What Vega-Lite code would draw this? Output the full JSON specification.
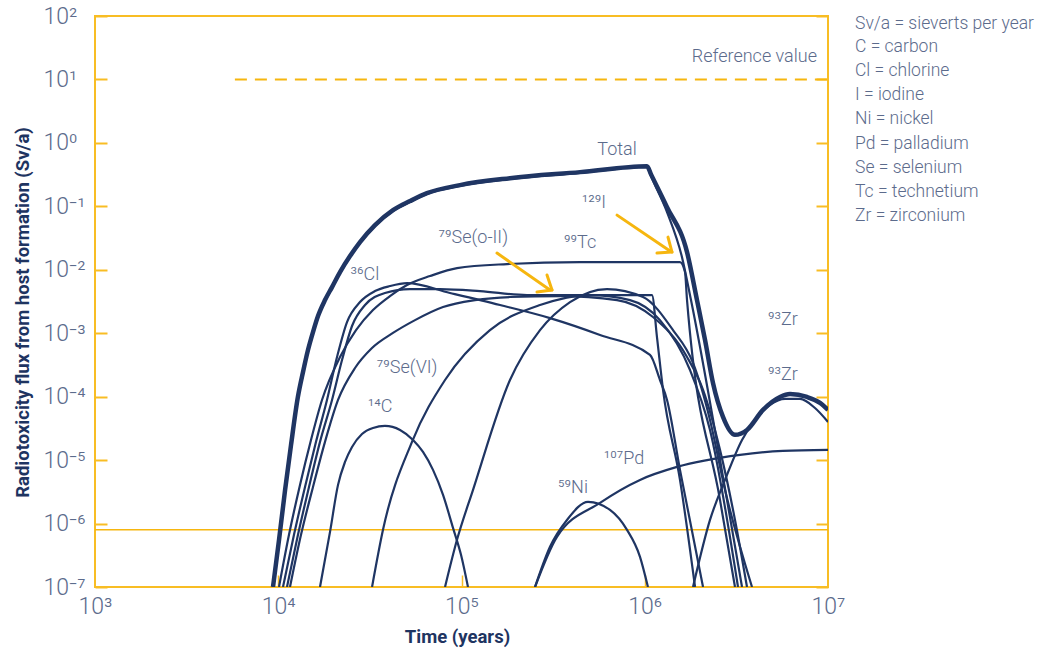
{
"$schema":"https://vega.github.io/schema/vega-lite/v6.json",
"width":733,"height":571,
"autosize":{"type":"none"},
"padding":{"left":95,"top":16,"right":215,"bottom":61},
"background":"#ffffff",
"config":{"view":{"stroke":"#f8bd24","strokeWidth":2},"font":"Roboto","axis":{"grid":false,"domain":false}},
"datasets":{
"refs":[{"k":"solid","t":1000,"t2":10000000,"v":8e-7},{"k":"dash","t":5800,"t2":10000000,"v":10}],
"arrows":[
{"t":156200,"v":0.01832,"t2":304100,"v2":0.00479},
{"t":311800,"v":0.00479,"t2":258200,"v2":0.00446},
{"t":311800,"v":0.00479,"t2":292800,"v2":0.00826},
{"t":706000,"v":0.0727,"t2":1373000,"v2":0.0197},
{"t":1408000,"v":0.0190,"t2":1166000,"v2":0.01832},
{"t":1408000,"v":0.0190,"t2":1339000,"v2":0.0327}],
"labels":[
{"label":"Total","t":706000,"v":0.767},
{"label":"¹²⁹I","t":528000,"v":0.112},
{"label":"⁷⁹Se(o-II)","t":116000,"v":0.0316},
{"label":"⁹⁹Tc","t":444000,"v":0.0261},
{"label":"³⁶Cl","t":29700,"v":0.00826},
{"label":"⁷⁹Se(VI)","t":50500,"v":0.000283},
{"label":"¹⁴C","t":35900,"v":0.0000684},
{"label":"¹⁰⁷Pd","t":770000,"v":0.0000104},
{"label":"⁵⁹Ni","t":406000,"v":0.00000363},
{"label":"⁹³Zr","t":5670000,"v":0.00162},
{"label":"⁹³Zr","t":5670000,"v":0.00022}],
"reflabel":[{"label":"Reference value","t":8710000,"v":22.4}],
"notes":[
{"label":"Sv/a = sieverts per year","t":14040000,"v":74.0},
{"label":"C = carbon","t":14040000,"v":32.1},
{"label":"Cl = chlorine","t":14040000,"v":13.46},
{"label":"I = iodine","t":14040000,"v":5.64},
{"label":"Ni = nickel","t":14040000,"v":2.361},
{"label":"Pd = palladium","t":14040000,"v":0.954},
{"label":"Se = selenium","t":14040000,"v":0.400},
{"label":"Tc = technetium","t":14040000,"v":0.1674},
{"label":"Zr = zirconium","t":14040000,"v":0.0701}],
"curves":[
{"s":"Total","t":9360,"v":1e-7},{"s":"Total","t":10100,"v":5.54e-7},{"s":"Total","t":10900,"v":3.4e-6},{"s":"Total","t":11740,"v":1.73e-5},{"s":"Total","t":12800,"v":9.89e-5},{"s":"Total","t":13650,"v":2.449e-4},{"s":"Total","t":14530,"v":5.437e-4},{"s":"Total","t":15474,"v":1.044e-3},{"s":"Total","t":16480,"v":1.866e-3},{"s":"Total","t":17992,"v":3.333e-3},{"s":"Total","t":19654,"v":5.34e-3},{"s":"Total","t":21731,"v":9.2e-3},{"s":"Total","t":24640,"v":0.01643},{"s":"Total","t":27935,"v":0.02731},{"s":"Total","t":33725,"v":0.05057},{"s":"Total","t":42272,"v":0.0871},{"s":"Total","t":52400,"v":0.121},{"s":"Total","t":64800,"v":0.161},{"s":"Total","t":98100,"v":0.216},{"s":"Total","t":183900,"v":0.278},{"s":"Total","t":443500,"v":0.346},{"s":"Total","t":1029000,"v":0.43},{"s":"Total","t":1082000,"v":0.3191},{"s":"Total","t":1323000,"v":0.0971},{"s":"Total","t":1701000,"v":0.019},{"s":"Total","t":1928000,"v":0.00333},{"s":"Total","t":2133000,"v":7.81e-4},{"s":"Total","t":2357000,"v":1.64e-4},{"s":"Total","t":2673000,"v":4.79e-5},{"s":"Total","t":3108000,"v":2.5e-5},{"s":"Total","t":3614000,"v":2.99e-5},{"s":"Total","t":4418000,"v":6.18e-5},{"s":"Total","t":5472000,"v":9.89e-5},{"s":"Total","t":6205000,"v":1.1e-4},{"s":"Total","t":7681000,"v":9.89e-5},{"s":"Total","t":9045000,"v":7.96e-5},{"s":"Total","t":10000000,"v":6.18e-5},
{"s":"I129","t":9360,"v":9.7e-8},{"s":"I129","t":10100,"v":5.37e-7},{"s":"I129","t":10900,"v":3.3e-6},{"s":"I129","t":11740,"v":1.68e-5},{"s":"I129","t":12800,"v":9.59e-5},{"s":"I129","t":13650,"v":2.376e-4},{"s":"I129","t":14530,"v":5.274e-4},{"s":"I129","t":15474,"v":1.013e-3},{"s":"I129","t":16480,"v":1.81e-3},{"s":"I129","t":17992,"v":3.233e-3},{"s":"I129","t":19654,"v":5.18e-3},{"s":"I129","t":21731,"v":8.92e-3},{"s":"I129","t":24640,"v":0.01594},{"s":"I129","t":27935,"v":0.02649},{"s":"I129","t":33725,"v":0.04905},{"s":"I129","t":42272,"v":0.0845},{"s":"I129","t":52400,"v":0.1174},{"s":"I129","t":64800,"v":0.1562},{"s":"I129","t":98100,"v":0.2095},{"s":"I129","t":183900,"v":0.2697},{"s":"I129","t":443500,"v":0.3356},{"s":"I129","t":1029000,"v":0.417},{"s":"I129","t":1082000,"v":0.2989},{"s":"I129","t":1323000,"v":0.0811},{"s":"I129","t":1597000,"v":0.0158},{"s":"I129","t":1788000,"v":0.00333},{"s":"I129","t":2811000,"v":2.36e-6},{"s":"I129","t":3395000,"v":1e-7},
{"s":"Tc99","t":10094,"v":1e-7},{"s":"Tc99","t":11444,"v":6.64e-7},{"s":"Tc99","t":13143,"v":4.07e-6},{"s":"Tc99","t":15090,"v":2.08e-5},{"s":"Tc99","t":17327,"v":8.87e-5},{"s":"Tc99","t":21731,"v":4.22e-4},{"s":"Tc99","t":26567,"v":1.12e-3},{"s":"Tc99","t":32887,"v":2.32e-3},{"s":"Tc99","t":40710,"v":3.85e-3},{"s":"Tc99","t":50423,"v":5.74e-3},{"s":"Tc99","t":67307,"v":7.96e-3},{"s":"Tc99","t":94515,"v":0.01064},{"s":"Tc99","t":177140,"v":0.0123},{"s":"Tc99","t":443500,"v":0.0132},{"s":"Tc99","t":1557000,"v":0.0132},{"s":"Tc99","t":1658000,"v":0.0092},{"s":"Tc99","t":1701000,"v":0.00333},{"s":"Tc99","t":2574000,"v":2.36e-6},{"s":"Tc99","t":3108000,"v":1e-7},
{"s":"Cl36","t":10615,"v":1e-7},{"s":"Cl36","t":12185,"v":6.64e-7},{"s":"Cl36","t":13995,"v":3.78e-6},{"s":"Cl36","t":16070,"v":1.94e-5},{"s":"Cl36","t":18449,"v":8.87e-5},{"s":"Cl36","t":20929,"v":4.22e-4},{"s":"Cl36","t":23728,"v":1.5e-3},{"s":"Cl36","t":27935,"v":3.1e-3},{"s":"Cl36","t":33725,"v":4.62e-3},{"s":"Cl36","t":40710,"v":5.54e-3},{"s":"Cl36","t":50423,"v":6.17e-3},{"s":"Cl36","t":86500,"v":4.3e-3},{"s":"Cl36","t":162300,"v":2.78e-3},{"s":"Cl36","t":304100,"v":1.73e-3},{"s":"Cl36","t":570000,"v":9.38e-4},{"s":"Cl36","t":1068000,"v":4.54e-4},{"s":"Cl36","t":1211000,"v":1.83e-4},{"s":"Cl36","t":1323000,"v":8.88e-5},{"s":"Cl36","t":1557000,"v":7.01e-6},{"s":"Cl36","t":2080000,"v":1e-7},
{"s":"SeOII","t":11160,"v":1e-7},{"s":"SeOII","t":12812,"v":6.64e-7},{"s":"SeOII","t":14716,"v":3.78e-6},{"s":"SeOII","t":16898,"v":1.94e-5},{"s":"SeOII","t":19654,"v":8.87e-5},{"s":"SeOII","t":22285,"v":3.78e-4},{"s":"SeOII","t":25266,"v":1.3e-3},{"s":"SeOII","t":29756,"v":2.78e-3},{"s":"SeOII","t":38236,"v":4.3e-3},{"s":"SeOII","t":52356,"v":4.97e-3},{"s":"SeOII","t":76300,"v":4.97e-3},{"s":"SeOII","t":126200,"v":4.62e-3},{"s":"SeOII","t":227770,"v":4.0e-3},{"s":"SeOII","t":1095000,"v":4.0e-3},{"s":"SeOII","t":1166000,"v":8.71e-4},{"s":"SeOII","t":1258000,"v":1.28e-4},{"s":"SeOII","t":1557000,"v":4.88e-6},{"s":"SeOII","t":1881000,"v":1e-7},
{"s":"SeVI","t":11589,"v":1e-7},{"s":"SeVI","t":13309,"v":6.64e-7},{"s":"SeVI","t":15474,"v":3.78e-6},{"s":"SeVI","t":17992,"v":1.94e-5},{"s":"SeVI","t":21193,"v":8.87e-5},{"s":"SeVI","t":26235,"v":2.83e-4},{"s":"SeVI","t":32477,"v":5.85e-4},{"s":"SeVI","t":42272,"v":1.01e-3},{"s":"SeVI","t":55776,"v":1.61e-3},{"s":"SeVI","t":79296,"v":2.59e-3},{"s":"SeVI","t":118480,"v":3.33e-3},{"s":"SeVI","t":183950,"v":3.72e-3},{"s":"SeVI","t":344800,"v":3.85e-3},{"s":"SeVI","t":706000,"v":3.33e-3},{"s":"SeVI","t":1109000,"v":1.8e-3},{"s":"SeVI","t":1701000,"v":4.22e-4},{"s":"SeVI","t":2080000,"v":1.28e-4},{"s":"SeVI","t":2574000,"v":1.45e-5},{"s":"SeVI","t":3108000,"v":1.14e-6},{"s":"SeVI","t":3614000,"v":1e-7},
{"s":"C14","t":16898,"v":1e-7},{"s":"C14","t":19165,"v":7.4e-7},{"s":"C14","t":21193,"v":4.07e-6},{"s":"C14","t":23139,"v":9.37e-6},{"s":"C14","t":25266,"v":1.614e-5},{"s":"C14","t":28640,"v":2.586e-5},{"s":"C14","t":32887,"v":3.215e-5},{"s":"C14","t":38236,"v":3.46e-5},{"s":"C14","t":46200,"v":2.99e-5},{"s":"C14","t":54400,"v":2.08e-5},{"s":"C14","t":61650,"v":1.346e-5},{"s":"C14","t":69900,"v":7.01e-6},{"s":"C14","t":79296,"v":2.83e-6},{"s":"C14","t":89880,"v":8.55e-7},{"s":"C14","t":99380,"v":3.215e-7},{"s":"C14","t":108500,"v":1e-7},
{"s":"H","t":32500,"v":1e-7},{"s":"H","t":37290,"v":7.96e-7},{"s":"H","t":53690,"v":1.94e-5},{"s":"H","t":81300,"v":1.83e-4},{"s":"H","t":143000,"v":1.12e-3},{"s":"H","t":268200,"v":2.78e-3},{"s":"H","t":502700,"v":4.0e-3},{"s":"H","t":830800,"v":3.33e-3},{"s":"H","t":1211000,"v":1.61e-3},{"s":"H","t":1766000,"v":2.63e-4},{"s":"H","t":2270000,"v":2.99e-5},{"s":"H","t":3228000,"v":1e-7},
{"s":"I","t":81300,"v":1e-7},{"s":"I","t":94500,"v":5.54e-7},{"s":"I","t":115600,"v":3.4e-6},{"s":"I","t":183900,"v":1.83e-4},{"s":"I","t":268200,"v":1.12e-3},{"s":"I","t":391000,"v":3.1e-3},{"s":"I","t":622300,"v":4.97e-3},{"s":"I","t":978400,"v":3.72e-3},{"s":"I","t":1426000,"v":1.12e-3},{"s":"I","t":1834000,"v":3.4e-4},{"s":"I","t":2270000,"v":4.3e-5},{"s":"I","t":2741000,"v":3.4e-6},{"s":"I","t":3849000,"v":1e-7},
{"s":"Ni59","t":251900,"v":1e-7},{"s":"Ni59","t":304100,"v":4.3e-7},{"s":"Ni59","t":376400,"v":1.14e-6},{"s":"Ni59","t":490300,"v":2.2e-6},{"s":"Ni59","t":646200,"v":1.64e-6},{"s":"Ni59","t":800100,"v":7.96e-7},{"s":"Ni59","t":942100,"v":2.99e-7},{"s":"Ni59","t":1041000,"v":1e-7},
{"s":"Pd107","t":251900,"v":1e-7},{"s":"Pd107","t":331900,"v":6.17e-7},{"s":"Pd107","t":570000,"v":2.12e-6},{"s":"Pd107","t":942100,"v":4.88e-6},{"s":"Pd107","t":1500000,"v":7.81e-6},{"s":"Pd107","t":3311000,"v":1.21e-5},{"s":"Pd107","t":5681000,"v":1.4e-5},{"s":"Pd107","t":10000000,"v":1.45e-5},
{"s":"Zr93","t":1834000,"v":1e-7},{"s":"Zr93","t":2270000,"v":1.14e-6},{"s":"Zr93","t":2741000,"v":4.88e-6},{"s":"Zr93","t":3395000,"v":2.08e-5},{"s":"Zr93","t":3997000,"v":4.3e-5},{"s":"Zr93","t":4826000,"v":7.4e-5},{"s":"Zr93","t":5827000,"v":9.21e-5},{"s":"Zr93","t":7034000,"v":9.21e-5},{"s":"Zr93","t":8492000,"v":6.63e-5},{"s":"Zr93","t":10000000,"v":4.0e-5}
]},
"resolve":{"axis":{"x":"independent","y":"independent"}},
"layer":[
{"data":{"name":"refs"},"transform":[{"filter":"datum.k === 'solid'"}],
 "mark":{"type":"rule","color":"#f6b60f","strokeWidth":1.5},
 "encoding":{
  "x":{"field":"t","type":"quantitative","scale":{"type":"log","domain":[1000,10000000],"nice":false},"axis":null},
  "x2":{"field":"t2"},
  "y":{"field":"v","type":"quantitative","scale":{"type":"log","domain":[1e-7,100],"nice":false},
   "axis":{"orient":"left","values":[1e-7,1e-6,1e-5,1e-4,1e-3,0.01,0.1,1,10,100],"labels":false,"ticks":true,"tickSize":12,"offset":-12,"tickColor":"#f8bd24","tickWidth":2,"domain":false,"grid":false,"title":null}}}},
{"data":{"name":"refs"},"transform":[{"filter":"datum.k === 'dash'"}],
 "mark":{"type":"rule","color":"#f6b60f","strokeWidth":2,"strokeDash":[12,8]},
 "encoding":{
  "x":{"field":"t","type":"quantitative","scale":{"type":"log","domain":[1000,10000000],"nice":false},"axis":null},
  "x2":{"field":"t2"},
  "y":{"field":"v","type":"quantitative","scale":{"type":"log","domain":[1e-7,100],"nice":false},"axis":null}}},
{"data":{"name":"curves"},"transform":[{"filter":"datum.s !== 'Total'"}],
 "mark":{"type":"line","color":"#1f3563","strokeWidth":2.2,"clip":true,"interpolate":"monotone"},
 "encoding":{
  "x":{"field":"t","type":"quantitative","scale":{"type":"log","domain":[1000,10000000],"nice":false},
   "axis":{"orient":"bottom","values":[10000,100000,1000000],"labels":false,"ticks":true,"tickSize":12,"offset":-12,"tickColor":"#f8bd24","tickWidth":1.5,"domain":false,"grid":false,"title":null}},
  "y":{"field":"v","type":"quantitative","scale":{"type":"log","domain":[1e-7,100],"nice":false},
   "axis":{"orient":"right","values":[1e-7,1e-6,1e-5,1e-4,1e-3,0.01,0.1,1,10,100],"labels":false,"ticks":true,"tickSize":12,"offset":-12,"tickColor":"#f8bd24","tickWidth":2,"domain":false,"grid":false,"title":null}},
  "detail":{"field":"s"}}},
{"data":{"name":"curves"},"transform":[{"filter":"datum.s === 'Total'"}],
 "mark":{"type":"line","color":"#1f3563","strokeWidth":4.5,"clip":true,"interpolate":"monotone","strokeJoin":"round"},
 "encoding":{
  "x":{"field":"t","type":"quantitative","scale":{"type":"log","domain":[1000,10000000],"nice":false},
   "axis":{"orient":"bottom","values":[1000,10000,100000,1000000,10000000],"ticks":false,"domain":false,"grid":false,
    "labelExpr":"'10' + ['⁰','¹','²','³','⁴','⁵','⁶','⁷','⁸','⁹'][round(log(datum.value)/LN10)]",
    "labelFont":"Roboto","labelFontWeight":300,"labelFontSize":23,"labelColor":"#5c6b8c","labelPadding":19,"labelBaseline":"middle","labelAlign":"center","labelFlush":false,"labelOverlap":false,
    "title":"Time (years)","titleFont":"Roboto","titleFontWeight":"bold","titleFontSize":18.5,"titleColor":"#1e3461","titleX":362,"titleY":49,"titleBaseline":"middle","titleAlign":"center"}},
  "y":{"field":"v","type":"quantitative","scale":{"type":"log","domain":[1e-7,100],"nice":false},
   "axis":{"orient":"left","values":[1e-7,1e-6,1e-5,1e-4,1e-3,0.01,0.1,1,10,100],"ticks":false,"domain":false,"grid":false,
    "labelExpr":"'10' + (round(log(datum.value)/LN10) < 0 ? '⁻' : '') + ['⁰','¹','²','³','⁴','⁵','⁶','⁷','⁸','⁹'][abs(round(log(datum.value)/LN10))]",
    "labelFont":"Roboto","labelFontWeight":300,"labelFontSize":23,"labelColor":"#5c6b8c","labelPadding":52,"labelBaseline":"middle","labelAlign":"left","labelFlush":false,"labelOverlap":false,
    "encode":{"labels":{"update":{"dy":{"signal":"8 + (round(log(datum.value)/LN10) - 2) * 2.22"}}}},
    "title":"Radiotoxicity flux from host formation (Sv/a)","titleFont":"Roboto","titleFontWeight":"bold","titleFontSize":18.5,"titleColor":"#1e3461","titleX":-73,"titleY":296,"titleAngle":-90,"titleAlign":"center","titleBaseline":"middle"}}}},
{"data":{"name":"arrows"},
 "mark":{"type":"rule","color":"#f6b60f","strokeWidth":3,"strokeCap":"round"},
 "encoding":{
  "x":{"field":"t","type":"quantitative","scale":{"type":"log","domain":[1000,10000000],"nice":false},"axis":null},
  "x2":{"field":"t2"},
  "y":{"field":"v","type":"quantitative","scale":{"type":"log","domain":[1e-7,100],"nice":false},"axis":null},
  "y2":{"field":"v2"}}},
{"data":{"name":"labels"},
 "mark":{"type":"text","font":"Roboto","fontWeight":300,"fontSize":18,"color":"#5c6b8c","baseline":"middle","align":"center"},
 "encoding":{
  "x":{"field":"t","type":"quantitative","scale":{"type":"log","domain":[1000,10000000],"nice":false},"axis":null},
  "y":{"field":"v","type":"quantitative","scale":{"type":"log","domain":[1e-7,100],"nice":false},"axis":null},
  "text":{"field":"label"}}},
{"data":{"name":"reflabel"},
 "mark":{"type":"text","font":"Roboto","fontWeight":300,"fontSize":18,"color":"#5c6b8c","baseline":"middle","align":"right"},
 "encoding":{
  "x":{"field":"t","type":"quantitative","scale":{"type":"log","domain":[1000,10000000],"nice":false},"axis":null},
  "y":{"field":"v","type":"quantitative","scale":{"type":"log","domain":[1e-7,100],"nice":false},"axis":null},
  "text":{"field":"label"}}},
{"data":{"name":"notes"},
 "mark":{"type":"text","font":"Roboto","fontWeight":300,"fontSize":17.5,"color":"#5c6b8c","baseline":"middle","align":"left","clip":false},
 "encoding":{
  "x":{"field":"t","type":"quantitative","scale":{"type":"log","domain":[1000,10000000],"nice":false},"axis":null},
  "y":{"field":"v","type":"quantitative","scale":{"type":"log","domain":[1e-7,100],"nice":false},"axis":null},
  "text":{"field":"label"}}}
]
}
